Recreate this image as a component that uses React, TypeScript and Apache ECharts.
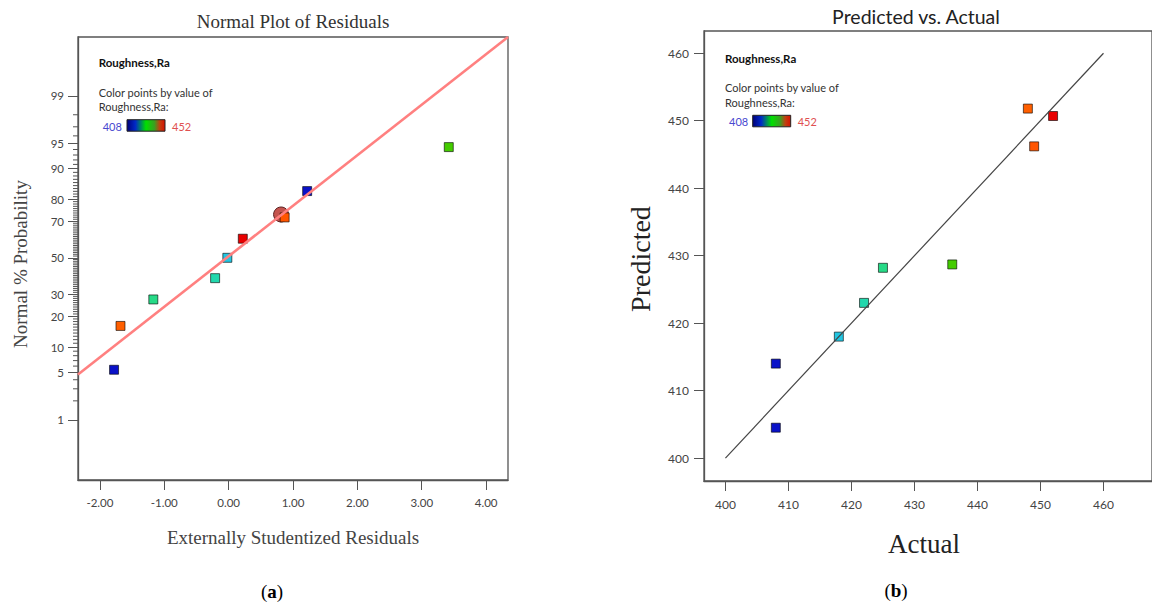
import React, { useEffect, useRef } from "react";
import * as echarts from "echarts";

// ---------- data ----------
// (a) Normal plot of residuals
const leftResidual = [-1.78, -1.68, -1.17, -0.21, -0.02, 0.22, 0.87, 1.22, 3.42];
const leftProb = [5.4, 16.4, 27.5, 38.5, 50.0, 60.8, 71.9, 83.1, 94.4];
const leftRa = [408, 448, 425, 422, 418, 452, 449, 408, 436];
const highlightResidual = [0.815];
const highlightProb = [73.3];
const refLineResidual = [-2.34, 4.34];
const refLineZ = [-1.675, 3.17];
const probTicks = [1, 5, 10, 20, 30, 50, 70, 80, 90, 95, 99];
const residualTicks = [-2, -1, 0, 1, 2, 3, 4];

// (b) Predicted vs actual
const actual = [408, 408, 418, 422, 425, 436, 448, 449, 452];
const predicted = [404.5, 414.0, 418.0, 423.0, 428.2, 428.7, 451.8, 446.2, 450.7];
const diagLine = [400, 460];
const rightTicks = [400, 410, 420, 430, 440, 450, 460];

// colour scale for Roughness,Ra
const raStops = [408, 418, 423, 436, 447, 450, 452];
const raColors = ["#0a12c8", "#22c6e2", "#22dca0", "#44cc00", "#ff6a00", "#ff4a00", "#e80000"];

// ---------- helpers ----------
function normInv(p: number): number {
  const a = [-3.969683028665376e1, 2.209460984245205e2, -2.759285104469687e2, 1.38357751867269e2, -3.066479806614716e1, 2.506628277459239];
  const b = [-5.447609879822406e1, 1.615858368580409e2, -1.556989798598866e2, 6.680131188771972e1, -1.328068155288572e1];
  const c = [-7.784894002430293e-3, -3.223964580411365e-1, -2.400758277161838, -2.549671010229528, 4.374664141464968, 2.938163982698783];
  const d = [7.784695709041462e-3, 3.224671290700398e-1, 2.445134137142996, 3.754408661907416];
  const pl = 0.02425;
  if (p < pl) {
    const q = Math.sqrt(-2 * Math.log(p));
    return (((((c[0] * q + c[1]) * q + c[2]) * q + c[3]) * q + c[4]) * q + c[5]) / ((((d[0] * q + d[1]) * q + d[2]) * q + d[3]) * q + 1);
  }
  if (p <= 1 - pl) {
    const q = p - 0.5;
    const r = q * q;
    return ((((((a[0] * r + a[1]) * r + a[2]) * r + a[3]) * r + a[4]) * r + a[5]) * q) / (((((b[0] * r + b[1]) * r + b[2]) * r + b[3]) * r + b[4]) * r + 1);
  }
  const q = Math.sqrt(-2 * Math.log(1 - p));
  return -(((((c[0] * q + c[1]) * q + c[2]) * q + c[3]) * q + c[4]) * q + c[5]) / ((((d[0] * q + d[1]) * q + d[2]) * q + d[3]) * q + 1);
}

function hexToRgb(h: string) {
  return [parseInt(h.slice(1, 3), 16), parseInt(h.slice(3, 5), 16), parseInt(h.slice(5, 7), 16)];
}
function colorFor(v: number): string {
  if (v <= raStops[0]) return raColors[0];
  for (let i = 1; i < raStops.length; i++) {
    if (v <= raStops[i]) {
      const t = (v - raStops[i - 1]) / (raStops[i] - raStops[i - 1]);
      const c0 = hexToRgb(raColors[i - 1]);
      const c1 = hexToRgb(raColors[i]);
      const m = c0.map((x, k) => Math.round(x + (c1[k] - x) * t));
      return `rgb(${m[0]},${m[1]},${m[2]})`;
    }
  }
  return raColors[raColors.length - 1];
}

const SANS = "Lato, 'Noto Sans', sans-serif";
const SERIF = "'Liberation Serif', 'Times New Roman', serif";

export default function App() {
  const ref = useRef<HTMLDivElement>(null);
  useEffect(() => {
    if (!ref.current) return;
    const chart = echarts.init(ref.current, undefined, { renderer: "svg" });

    const zMajor = probTicks.map((p) => normInv(p / 100));
    const zMinor: number[] = [];
    for (let p = 1; p <= 99; p++) if (!probTicks.includes(p)) zMinor.push(normInv(p / 100));
    const zMin = -3.19;
    const zMax = 3.17;
    const xMinLeft = -2.34;

    const axisLabelStyle = { color: "#444", fontFamily: SANS, fontSize: 11.5 };
    const lineStyle = { color: "#555", width: 1.3 };
    const gradBar = (x: number, y: number) => ({
      type: "rect",
      shape: { x, y, width: 38, height: 11.5 },
      style: {
        fill: new echarts.graphic.LinearGradient(0, 0, 1, 0, [
          { offset: 0, color: "#00007a" },
          { offset: 0.22, color: "#0028c8" },
          { offset: 0.5, color: "#00e000" },
          { offset: 0.72, color: "#3aa020" },
          { offset: 0.86, color: "#c04010" },
          { offset: 1, color: "#d81000" },
        ]),
        stroke: "#222",
        lineWidth: 1,
      },
    });
    const legend = (x: number, y0: number, barX: number) => [
      { type: "text", x, y: y0, style: { text: "Roughness,Ra", font: `bold 11.5px ${SANS}`, fill: "#111", textVerticalAlign: "middle" } },
      { type: "text", x, y: y0 + 29.5, style: { text: "Color points by value of", font: `11px ${SANS}`, fill: "#333", textVerticalAlign: "middle" } },
      { type: "text", x, y: y0 + 44.2, style: { text: "Roughness,Ra:", font: `11px ${SANS}`, fill: "#333", textVerticalAlign: "middle" } },
      { type: "text", x: x + 4, y: y0 + 63.3, style: { text: "408", font: `11px ${SANS}`, fill: "#4848d0", textVerticalAlign: "middle" } },
      gradBar(barX, y0 + 57),
      { type: "text", x: barX + 45, y: y0 + 63.3, style: { text: "452", font: `11px ${SANS}`, fill: "#e05050", textVerticalAlign: "middle" } },
    ];

    chart.setOption({
      animation: false,
      backgroundColor: "#fff",
      grid: [
        { left: 78, top: 37, width: 430, height: 443, show: true, borderColor: "#555", borderWidth: 1.3, containLabel: false },
        { left: 704, top: 31, width: 456, height: 450, show: true, borderColor: "#555", borderWidth: 1.3, containLabel: false },
      ],
      xAxis: [
        {
          type: "value", gridIndex: 0, min: xMinLeft, max: 4.34, position: "bottom",
          splitLine: { show: false },
          axisLine: { show: true, onZero: false, lineStyle },
          axisTick: { show: true, length: 10, customValues: residualTicks, lineStyle: { color: "#555" } },
          axisLabel: { ...axisLabelStyle, margin: 16, customValues: residualTicks, formatter: (v: number) => v.toFixed(2) },
        },
        {
          type: "value", gridIndex: 1, min: 396.6, max: 467.7, position: "bottom",
          splitLine: { show: false },
          axisLine: { show: true, onZero: false, lineStyle },
          axisTick: { show: true, length: 10, customValues: rightTicks, lineStyle: { color: "#555" } },
          axisLabel: { ...axisLabelStyle, fontSize: 12, margin: 17, customValues: rightTicks },
        },
      ],
      yAxis: [
        {
          type: "value", gridIndex: 0, min: zMin, max: zMax, position: "left",
          splitLine: { show: false },
          axisLine: { show: true, onZero: false, lineStyle },
          axisTick: { show: true, length: 10, customValues: zMajor, lineStyle: { color: "#555" } },
          axisLabel: {
            ...axisLabelStyle, margin: 14, customValues: zMajor,
            formatter: (v: number) => {
              let best = 0;
              for (let i = 0; i < zMajor.length; i++) if (Math.abs(zMajor[i] - v) < Math.abs(zMajor[best] - v)) best = i;
              return String(probTicks[best]);
            },
          },
        },
        {
          type: "value", gridIndex: 1, min: 396.6, max: 463.3, position: "left",
          splitLine: { show: false },
          axisLine: { show: true, onZero: false, lineStyle },
          axisTick: { show: true, length: 10, customValues: rightTicks, lineStyle: { color: "#555" } },
          axisLabel: { ...axisLabelStyle, fontSize: 12, margin: 15, customValues: rightTicks },
        },
      ],
      series: [
        {
          // minor probability ticks (every integer percent)
          type: "custom", xAxisIndex: 0, yAxisIndex: 0, silent: true, clip: false,
          data: zMinor.map((z) => [xMinLeft, z]),
          renderItem: (params: any, api: any) => {
            const pt = api.coord([api.value(0), api.value(1)]);
            return {
              type: "line",
              shape: { x1: pt[0] - 5, y1: pt[1], x2: pt[0], y2: pt[1] },
              style: { stroke: "#555", lineWidth: 1 },
            };
          },
        },
        {
          type: "line", xAxisIndex: 0, yAxisIndex: 0, symbol: "none", silent: true,
          data: refLineResidual.map((x, i) => [x, refLineZ[i]]),
          lineStyle: { color: "#ff8080", width: 2.6 },
        },
        {
          type: "scatter", xAxisIndex: 0, yAxisIndex: 0, symbol: "circle", symbolSize: 15,
          data: highlightResidual.map((x, i) => [x, normInv(highlightProb[i] / 100)]),
          itemStyle: { color: "#c4544e", borderColor: "#5a2020", borderWidth: 1, opacity: 1 },
        },
        {
          type: "scatter", xAxisIndex: 0, yAxisIndex: 0, symbol: "rect", symbolSize: 9,
          data: leftResidual.map((x, i) => [x, normInv(leftProb[i] / 100), leftRa[i]]),
          itemStyle: { color: (p: any) => colorFor(p.data[2]), borderColor: "rgba(0,0,0,0.6)", borderWidth: 1, opacity: 1 },
        },
        {
          type: "line", xAxisIndex: 1, yAxisIndex: 1, symbol: "none", silent: true,
          data: diagLine.map((v) => [v, v]),
          lineStyle: { color: "#444", width: 1.2 },
        },
        {
          type: "scatter", xAxisIndex: 1, yAxisIndex: 1, symbol: "rect", symbolSize: 9,
          data: actual.map((a, i) => [a, predicted[i]]),
          itemStyle: { color: (p: any) => colorFor(p.data[0]), borderColor: "rgba(0,0,0,0.6)", borderWidth: 1, opacity: 1 },
        },
      ],
      graphic: [
        { type: "text", x: 293, y: 21, style: { text: "Normal Plot of Residuals", font: `19px ${SERIF}`, fill: "#333", textAlign: "center", textVerticalAlign: "middle" } },
        { type: "text", x: 916, y: 16, style: { text: "Predicted vs. Actual", font: `19.5px ${SANS}`, fill: "#222", textAlign: "center", textVerticalAlign: "middle" } },
        { type: "text", x: 20, y: 264, rotation: Math.PI / 2, style: { text: "Normal % Probability", font: `19px ${SERIF}`, fill: "#444", textAlign: "center", textVerticalAlign: "middle" } },
        { type: "text", x: 293, y: 537, style: { text: "Externally Studentized Residuals", font: `19px ${SERIF}`, fill: "#444", textAlign: "center", textVerticalAlign: "middle" } },
        { type: "text", x: 640, y: 259, rotation: Math.PI / 2, style: { text: "Predicted", font: `28px ${SERIF}`, fill: "#222", textAlign: "center", textVerticalAlign: "middle" } },
        { type: "text", x: 924, y: 544, style: { text: "Actual", font: `27px ${SERIF}`, fill: "#222", textAlign: "center", textVerticalAlign: "middle" } },
        {
          type: "text", x: 272, y: 591,
          style: {
            text: "{p|(}{b|a}{p|)}", textAlign: "center", textVerticalAlign: "middle",
            rich: { p: { font: `19px ${SERIF}`, fill: "#000" }, b: { font: `bold 19px ${SERIF}`, fill: "#000" } },
          },
        },
        {
          type: "text", x: 896, y: 590,
          style: {
            text: "{p|(}{b|b}{p|)}", textAlign: "center", textVerticalAlign: "middle",
            rich: { p: { font: `19px ${SERIF}`, fill: "#000" }, b: { font: `bold 19px ${SERIF}`, fill: "#000" } },
          },
        },
        ...legend(98.7, 62.7, 127),
        ...legend(725, 58.3, 752.7),
      ],
    });
    return () => chart.dispose();
  }, []);
  return <div ref={ref} style={{ position: "absolute", left: 0, top: 0, width: 1152, height: 603 }} />;
}
